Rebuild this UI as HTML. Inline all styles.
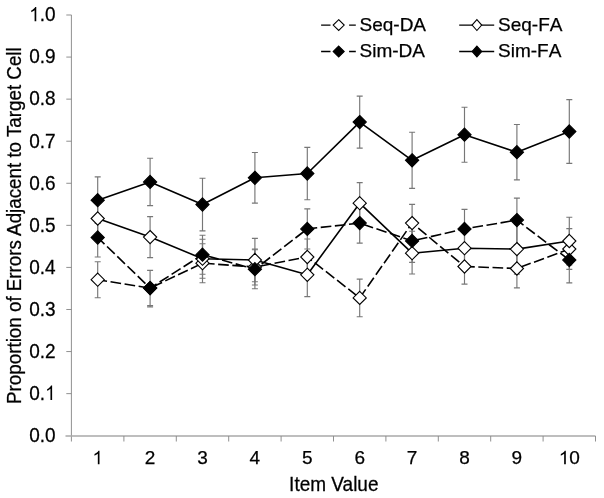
<!DOCTYPE html>
<html><head><meta charset="utf-8"><title>chart</title>
<style>
html,body{margin:0;padding:0;background:#fff;}
body{width:604px;height:498px;overflow:hidden;}
svg{display:block;filter:blur(0.4px);}
text{font-family:"Liberation Sans",sans-serif;font-size:19.0px;fill:#000;}
</style></head><body>
<svg width="604" height="498" viewBox="0 0 604 498">
<rect width="604" height="498" fill="#fff"/>

<g fill="none">
<line x1="71.4" y1="15.0" x2="71.4" y2="441.5" stroke="#8a8a8a" stroke-width="0.95"/>
<line x1="65.5" y1="436.0" x2="595.5" y2="436.0" stroke="#a8a8a8" stroke-width="1.7"/>
<g stroke="#8a8a8a" stroke-width="0.95">
<line x1="66.3" y1="393.63" x2="71.5" y2="393.63"/>
<line x1="66.3" y1="351.56" x2="71.5" y2="351.56"/>
<line x1="66.3" y1="309.49" x2="71.5" y2="309.49"/>
<line x1="66.3" y1="267.42" x2="71.5" y2="267.42"/>
<line x1="66.3" y1="225.35" x2="71.5" y2="225.35"/>
<line x1="66.3" y1="183.28" x2="71.5" y2="183.28"/>
<line x1="66.3" y1="141.21" x2="71.5" y2="141.21"/>
<line x1="66.3" y1="99.14" x2="71.5" y2="99.14"/>
<line x1="66.3" y1="57.07" x2="71.5" y2="57.07"/>
<line x1="66.3" y1="15.00" x2="71.5" y2="15.00"/>
<line x1="123.90" y1="436.0" x2="123.90" y2="441.5"/>
<line x1="176.30" y1="436.0" x2="176.30" y2="441.5"/>
<line x1="228.70" y1="436.0" x2="228.70" y2="441.5"/>
<line x1="281.10" y1="436.0" x2="281.10" y2="441.5"/>
<line x1="333.50" y1="436.0" x2="333.50" y2="441.5"/>
<line x1="385.90" y1="436.0" x2="385.90" y2="441.5"/>
<line x1="438.30" y1="436.0" x2="438.30" y2="441.5"/>
<line x1="490.70" y1="436.0" x2="490.70" y2="441.5"/>
<line x1="543.10" y1="436.0" x2="543.10" y2="441.5"/>
<line x1="595.50" y1="436.0" x2="595.50" y2="441.5"/>
</g></g>
<text transform="translate(55.60,442.00) scale(1,1.050)" text-anchor="end" stroke="#000" stroke-width="0.25">0.0</text>
<path d="M763 0H583V1147Q518 1085 412.5 1023T223 930V1104Q374 1175 487 1276T647 1472H763Z" transform="translate(45.04,399.93) scale(0.009277,-0.009741)" fill="#000" stroke="#000" stroke-width="0.25"/>
<text transform="translate(45.04,399.93) scale(1,1.050)" text-anchor="end" stroke="#000" stroke-width="0.25">0.</text>
<text transform="translate(55.60,357.86) scale(1,1.050)" text-anchor="end" stroke="#000" stroke-width="0.25">0.2</text>
<text transform="translate(55.60,315.79) scale(1,1.050)" text-anchor="end" stroke="#000" stroke-width="0.25">0.3</text>
<text transform="translate(55.60,273.72) scale(1,1.050)" text-anchor="end" stroke="#000" stroke-width="0.25">0.4</text>
<text transform="translate(55.60,231.65) scale(1,1.050)" text-anchor="end" stroke="#000" stroke-width="0.25">0.5</text>
<text transform="translate(55.60,189.58) scale(1,1.050)" text-anchor="end" stroke="#000" stroke-width="0.25">0.6</text>
<text transform="translate(55.60,147.51) scale(1,1.050)" text-anchor="end" stroke="#000" stroke-width="0.25">0.7</text>
<text transform="translate(55.60,105.44) scale(1,1.050)" text-anchor="end" stroke="#000" stroke-width="0.25">0.8</text>
<text transform="translate(55.60,63.37) scale(1,1.050)" text-anchor="end" stroke="#000" stroke-width="0.25">0.9</text>
<path d="M763 0H583V1147Q518 1085 412.5 1023T223 930V1104Q374 1175 487 1276T647 1472H763Z" transform="translate(29.19,21.30) scale(0.009277,-0.009741)" fill="#000" stroke="#000" stroke-width="0.25"/>
<text transform="translate(55.60,21.30) scale(1,1.050)" text-anchor="end" stroke="#000" stroke-width="0.25">.0</text>
<path d="M763 0H583V1147Q518 1085 412.5 1023T223 930V1104Q374 1175 487 1276T647 1472H763Z" transform="translate(92.42,464.35) scale(0.009277,-0.009277)" fill="#000" stroke="#000" stroke-width="0.25"/>
<path d="M763 0H583V1147Q518 1085 412.5 1023T223 930V1104Q374 1175 487 1276T647 1472H763Z" transform="translate(558.74,464.35) scale(0.009277,-0.009277)" fill="#000" stroke="#000" stroke-width="0.25"/>
<text transform="translate(569.30,464.35) scale(1,1.000)" text-anchor="start" stroke="#000" stroke-width="0.25">0</text>
<text transform="translate(150.10,464.35) scale(1,1.000)" text-anchor="middle" stroke="#000" stroke-width="0.25">2</text>
<text transform="translate(202.50,464.35) scale(1,1.000)" text-anchor="middle" stroke="#000" stroke-width="0.25">3</text>
<text transform="translate(254.90,464.35) scale(1,1.000)" text-anchor="middle" stroke="#000" stroke-width="0.25">4</text>
<text transform="translate(307.30,464.35) scale(1,1.000)" text-anchor="middle" stroke="#000" stroke-width="0.25">5</text>
<text transform="translate(359.70,464.35) scale(1,1.000)" text-anchor="middle" stroke="#000" stroke-width="0.25">6</text>
<text transform="translate(412.10,464.35) scale(1,1.000)" text-anchor="middle" stroke="#000" stroke-width="0.25">7</text>
<text transform="translate(464.50,464.35) scale(1,1.000)" text-anchor="middle" stroke="#000" stroke-width="0.25">8</text>
<text transform="translate(516.90,464.35) scale(1,1.000)" text-anchor="middle" stroke="#000" stroke-width="0.25">9</text>
<text transform="translate(333.80,490.50) scale(1,1.040)" text-anchor="middle" stroke="#000" stroke-width="0.25">Item Value</text>
<text transform="translate(21.2,225.6) rotate(-90) scale(1,1.04)" text-anchor="middle" stroke="#000" stroke-width="0.25" style="font-size:18.8px">Proportion of Errors Adjacent to Target Cell</text>
<g stroke="#777" stroke-width="1.15" fill="none">
<path d="M97.70 261.70V297.70M94.70 261.70H100.70M94.70 297.70H100.70"/>
<path d="M147.10 305.60H153.10"/>
<path d="M202.50 243.70V282.70M199.50 243.70H205.50M199.50 282.70H205.50"/>
<path d="M254.90 249.00V285.00M251.90 249.00H257.90M251.90 285.00H257.90"/>
<path d="M307.30 239.00V275.00M304.30 239.00H310.30M304.30 275.00H310.30"/>
<path d="M359.70 279.10V316.70M356.70 279.10H362.70M356.70 316.70H362.70"/>
<path d="M412.10 204.30V241.90M409.10 204.30H415.10M409.10 241.90H415.10"/>
<path d="M464.50 248.90V284.10M461.50 248.90H467.50M461.50 284.10H467.50"/>
<path d="M516.90 249.10V287.90M513.90 249.10H519.90M513.90 287.90H519.90"/>
<path d="M569.30 228.60V269.40M566.30 228.60H572.30M566.30 269.40H572.30"/>
<path d="M97.70 198.50V238.50M94.70 198.50H100.70M94.70 238.50H100.70"/>
<path d="M150.10 216.60V257.60M147.10 216.60H153.10M147.10 257.60H153.10"/>
<path d="M202.50 239.20V278.20M199.50 239.20H205.50M199.50 278.20H205.50"/>
<path d="M254.90 238.30V281.70M251.90 238.30H257.90M251.90 281.70H257.90"/>
<path d="M307.30 253.00V296.60M304.30 253.00H310.30M304.30 296.60H310.30"/>
<path d="M359.70 182.60V223.80M356.70 182.60H362.70M356.70 223.80H362.70"/>
<path d="M412.10 231.20V274.00M409.10 231.20H415.10M409.10 274.00H415.10"/>
<path d="M464.50 227.20V269.20M461.50 227.20H467.50M461.50 269.20H467.50"/>
<path d="M516.90 224.10V274.10M513.90 224.10H519.90M513.90 274.10H519.90"/>
<path d="M569.30 217.20V264.80M566.30 217.20H572.30M566.30 264.80H572.30"/>
<path d="M97.70 218.00V257.00M94.70 218.00H100.70M94.70 257.00H100.70"/>
<path d="M150.10 270.40V306.80M147.10 270.40H153.10M147.10 306.80H153.10"/>
<path d="M202.50 235.20V274.20M199.50 235.20H205.50M199.50 274.20H205.50"/>
<path d="M254.90 249.70V288.70M251.90 249.70H257.90M251.90 288.70H257.90"/>
<path d="M307.30 208.80V249.00M304.30 208.80H310.30M304.30 249.00H310.30"/>
<path d="M359.70 203.10V243.10M356.70 203.10H362.70M356.70 243.10H362.70"/>
<path d="M412.10 220.90V262.30M409.10 220.90H415.10M409.10 262.30H415.10"/>
<path d="M464.50 209.30V248.50M461.50 209.30H467.50M461.50 248.50H467.50"/>
<path d="M516.90 198.10V244.60M513.90 198.10H519.90M513.90 244.60H519.90"/>
<path d="M569.30 237.10V282.90M566.30 237.10H572.30M566.30 282.90H572.30"/>
<path d="M97.70 176.90V223.50M94.70 176.90H100.70M94.70 223.50H100.70"/>
<path d="M150.10 158.20V205.60M147.10 158.20H153.10M147.10 205.60H153.10"/>
<path d="M202.50 178.20V230.80M199.50 178.20H205.50M199.50 230.80H205.50"/>
<path d="M254.90 152.50V203.10M251.90 152.50H257.90M251.90 203.10H257.90"/>
<path d="M307.30 147.30V199.70M304.30 147.30H310.30M304.30 199.70H310.30"/>
<path d="M359.70 96.10V148.10M356.70 96.10H362.70M356.70 148.10H362.70"/>
<path d="M412.10 132.20V188.40M409.10 132.20H415.10M409.10 188.40H415.10"/>
<path d="M464.50 107.20V162.20M461.50 107.20H467.50M461.50 162.20H467.50"/>
<path d="M516.90 124.50V179.90M513.90 124.50H519.90M513.90 179.90H519.90"/>
<path d="M569.30 99.60V163.40M566.30 99.60H572.30M566.30 163.40H572.30"/>
</g>
<g id="seqda">
<polyline points="97.70,279.70 150.10,288.10 202.50,263.20 254.90,267.00 307.30,257.00 359.70,297.90 412.10,223.10 464.50,266.50" fill="none" stroke="#000" stroke-width="1.6" stroke-linejoin="round" stroke-dasharray="10.67 3.55" stroke-dashoffset="1.22"/>
<polyline points="464.50,266.50 516.90,268.50 569.30,249.00" fill="none" stroke="#000" stroke-width="1.6" stroke-linejoin="round" stroke-dasharray="10.67 3.55" stroke-dashoffset="0.41"/>
<path d="M97.70 273.10L104.30 279.70L97.70 286.30L91.10 279.70Z" fill="#fff" stroke="#000" stroke-width="1.1"/>
<path d="M150.10 281.50L156.70 288.10L150.10 294.70L143.50 288.10Z" fill="#fff" stroke="#000" stroke-width="1.1"/>
<path d="M202.50 256.60L209.10 263.20L202.50 269.80L195.90 263.20Z" fill="#fff" stroke="#000" stroke-width="1.1"/>
<path d="M254.90 260.40L261.50 267.00L254.90 273.60L248.30 267.00Z" fill="#fff" stroke="#000" stroke-width="1.1"/>
<path d="M307.30 250.40L313.90 257.00L307.30 263.60L300.70 257.00Z" fill="#fff" stroke="#000" stroke-width="1.1"/>
<path d="M359.70 291.30L366.30 297.90L359.70 304.50L353.10 297.90Z" fill="#fff" stroke="#000" stroke-width="1.1"/>
<path d="M412.10 216.50L418.70 223.10L412.10 229.70L405.50 223.10Z" fill="#fff" stroke="#000" stroke-width="1.1"/>
<path d="M464.50 259.90L471.10 266.50L464.50 273.10L457.90 266.50Z" fill="#fff" stroke="#000" stroke-width="1.1"/>
<path d="M516.90 261.90L523.50 268.50L516.90 275.10L510.30 268.50Z" fill="#fff" stroke="#000" stroke-width="1.1"/>
<path d="M569.30 242.40L575.90 249.00L569.30 255.60L562.70 249.00Z" fill="#fff" stroke="#000" stroke-width="1.1"/>
</g>
<g id="seqfa">
<polyline points="97.70,218.50 150.10,237.10 202.50,258.70 254.90,260.00 307.30,274.80 359.70,203.20 412.10,253.20 464.50,248.20 516.90,249.10 569.30,241.00" fill="none" stroke="#000" stroke-width="1.6" stroke-linejoin="round"/>
<path d="M97.70 211.90L104.30 218.50L97.70 225.10L91.10 218.50Z" fill="#fff" stroke="#000" stroke-width="1.1"/>
<path d="M150.10 230.50L156.70 237.10L150.10 243.70L143.50 237.10Z" fill="#fff" stroke="#000" stroke-width="1.1"/>
<path d="M202.50 252.10L209.10 258.70L202.50 265.30L195.90 258.70Z" fill="#fff" stroke="#000" stroke-width="1.1"/>
<path d="M254.90 253.40L261.50 260.00L254.90 266.60L248.30 260.00Z" fill="#fff" stroke="#000" stroke-width="1.1"/>
<path d="M307.30 268.20L313.90 274.80L307.30 281.40L300.70 274.80Z" fill="#fff" stroke="#000" stroke-width="1.1"/>
<path d="M359.70 196.60L366.30 203.20L359.70 209.80L353.10 203.20Z" fill="#fff" stroke="#000" stroke-width="1.1"/>
<path d="M412.10 246.60L418.70 253.20L412.10 259.80L405.50 253.20Z" fill="#fff" stroke="#000" stroke-width="1.1"/>
<path d="M464.50 241.60L471.10 248.20L464.50 254.80L457.90 248.20Z" fill="#fff" stroke="#000" stroke-width="1.1"/>
<path d="M516.90 242.50L523.50 249.10L516.90 255.70L510.30 249.10Z" fill="#fff" stroke="#000" stroke-width="1.1"/>
<path d="M569.30 234.40L575.90 241.00L569.30 247.60L562.70 241.00Z" fill="#fff" stroke="#000" stroke-width="1.1"/>
</g>
<g id="simda">
<polyline points="97.70,237.50 150.10,288.10 202.50,254.70 254.90,269.20 307.30,228.90 359.70,223.10 412.10,240.90 464.50,228.90 516.90,220.10 569.30,260.00" fill="none" stroke="#000" stroke-width="1.6" stroke-linejoin="round" stroke-dasharray="10.67 3.55" stroke-dashoffset="1.22"/>
<path d="M97.70 230.90L104.30 237.50L97.70 244.10L91.10 237.50Z" fill="#000" stroke="#000" stroke-width="1.1"/>
<path d="M150.10 281.50L156.70 288.10L150.10 294.70L143.50 288.10Z" fill="#000" stroke="#000" stroke-width="1.1"/>
<path d="M202.50 248.10L209.10 254.70L202.50 261.30L195.90 254.70Z" fill="#000" stroke="#000" stroke-width="1.1"/>
<path d="M254.90 262.60L261.50 269.20L254.90 275.80L248.30 269.20Z" fill="#000" stroke="#000" stroke-width="1.1"/>
<path d="M307.30 222.30L313.90 228.90L307.30 235.50L300.70 228.90Z" fill="#000" stroke="#000" stroke-width="1.1"/>
<path d="M359.70 216.50L366.30 223.10L359.70 229.70L353.10 223.10Z" fill="#000" stroke="#000" stroke-width="1.1"/>
<path d="M412.10 234.30L418.70 240.90L412.10 247.50L405.50 240.90Z" fill="#000" stroke="#000" stroke-width="1.1"/>
<path d="M464.50 222.30L471.10 228.90L464.50 235.50L457.90 228.90Z" fill="#000" stroke="#000" stroke-width="1.1"/>
<path d="M516.90 213.50L523.50 220.10L516.90 226.70L510.30 220.10Z" fill="#000" stroke="#000" stroke-width="1.1"/>
<path d="M569.30 253.40L575.90 260.00L569.30 266.60L562.70 260.00Z" fill="#000" stroke="#000" stroke-width="1.1"/>
</g>
<g id="simfa">
<polyline points="97.70,200.20 150.10,181.90 202.50,204.50 254.90,177.80 307.30,173.50 359.70,122.10 412.10,160.30 464.50,134.70 516.90,152.20 569.30,131.50" fill="none" stroke="#000" stroke-width="1.6" stroke-linejoin="round"/>
<path d="M97.70 193.60L104.30 200.20L97.70 206.80L91.10 200.20Z" fill="#000" stroke="#000" stroke-width="1.1"/>
<path d="M150.10 175.30L156.70 181.90L150.10 188.50L143.50 181.90Z" fill="#000" stroke="#000" stroke-width="1.1"/>
<path d="M202.50 197.90L209.10 204.50L202.50 211.10L195.90 204.50Z" fill="#000" stroke="#000" stroke-width="1.1"/>
<path d="M254.90 171.20L261.50 177.80L254.90 184.40L248.30 177.80Z" fill="#000" stroke="#000" stroke-width="1.1"/>
<path d="M307.30 166.90L313.90 173.50L307.30 180.10L300.70 173.50Z" fill="#000" stroke="#000" stroke-width="1.1"/>
<path d="M359.70 115.50L366.30 122.10L359.70 128.70L353.10 122.10Z" fill="#000" stroke="#000" stroke-width="1.1"/>
<path d="M412.10 153.70L418.70 160.30L412.10 166.90L405.50 160.30Z" fill="#000" stroke="#000" stroke-width="1.1"/>
<path d="M464.50 128.10L471.10 134.70L464.50 141.30L457.90 134.70Z" fill="#000" stroke="#000" stroke-width="1.1"/>
<path d="M516.90 145.60L523.50 152.20L516.90 158.80L510.30 152.20Z" fill="#000" stroke="#000" stroke-width="1.1"/>
<path d="M569.30 124.90L575.90 131.50L569.30 138.10L562.70 131.50Z" fill="#000" stroke="#000" stroke-width="1.1"/>
</g>
<path d="M321.1 25.1H330.5M349.1 25.1H355.8" stroke="#000" stroke-width="1.4" fill="none"/><path d="M338.70 19.70L344.20 25.10L338.70 30.50L333.20 25.10Z" fill="#fff" stroke="#000" stroke-width="1.1"/><text transform="translate(359.50,30.60) scale(1,1.000)" text-anchor="start" stroke="#000" stroke-width="0.25" style="font-kerning:none">Seq-DA</text>
<path d="M321.1 51.5H330.5M349.1 51.5H355.8" stroke="#000" stroke-width="1.4" fill="none"/><path d="M338.70 46.10L344.20 51.50L338.70 56.90L333.20 51.50Z" fill="#000" stroke="#000" stroke-width="1.1"/><text transform="translate(359.50,57.00) scale(1,1.000)" text-anchor="start" stroke="#000" stroke-width="0.25" style="font-kerning:none">Sim-DA</text>
<path d="M459.2 25.1H494.2" stroke="#000" stroke-width="1.4" fill="none"/><path d="M476.90 19.70L481.70 25.10L476.90 30.50L472.10 25.10Z" fill="#fff" stroke="#000" stroke-width="1.1"/><text transform="translate(498.00,30.60) scale(1,1.000)" text-anchor="start" stroke="#000" stroke-width="0.25" style="font-kerning:none">Seq-FA</text>
<path d="M459.2 51.5H494.2" stroke="#000" stroke-width="1.4" fill="none"/><path d="M476.90 46.10L481.70 51.50L476.90 56.90L472.10 51.50Z" fill="#000" stroke="#000" stroke-width="1.1"/><text transform="translate(498.00,57.00) scale(1,1.000)" text-anchor="start" stroke="#000" stroke-width="0.25" style="font-kerning:none">Sim-FA</text>
</svg></body></html>
